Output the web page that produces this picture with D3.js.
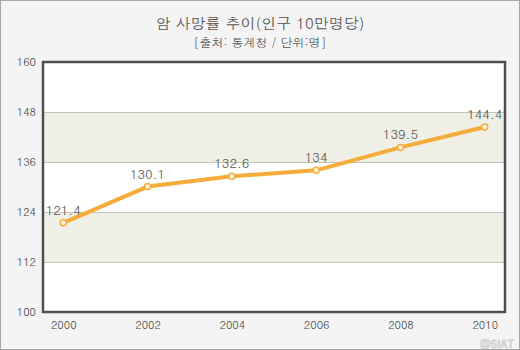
<!DOCTYPE html>
<html><head><meta charset="utf-8">
<script src="https://cdn.jsdelivr.net/npm/d3@7"></script>
<style>body{margin:0;background:#fff}</style>
</head><body>
<svg id="c" width="520" height="350"></svg>
<script>
const years = ["2000","2002","2004","2006","2008","2010"];
const values = [121.4,130.1,132.6,134,139.5,144.4];
const labels = ["121.4","130.1","132.6","134","139.5","144.4"];
const yTicks = [100,112,124,136,148,160];
const title = "암 사망률 추이(인구 10만명당)";
const subtitle = "[출처: 통계청 / 단위:명]";

const svg = d3.select("#c");
const font = "Dotum, 'Noto Sans CJK KR', sans-serif";
svg.append("rect").attr("x",0.5).attr("y",0.5).attr("width",519).attr("height",349)
  .attr("fill","#f4f4f4").attr("stroke","#a8a8a8");

const L=43,R=505,T=62,B=312;
const x = d3.scalePoint().domain(years).range([L,R]).padding(0.24);
const y = d3.scaleLinear().domain([100,160]).range([B,T]);

svg.append("rect").attr("x",L).attr("y",T).attr("width",R-L).attr("height",B-T).attr("fill","#fff");
[[136,148],[112,124]].forEach(b=>{
  svg.append("rect").attr("x",L).attr("y",y(b[1])).attr("width",R-L).attr("height",y(b[0])-y(b[1])).attr("fill","#f0efe6");
});
svg.append("g").selectAll("line").data(yTicks.slice(1,-1)).join("line")
  .attr("x1",L).attr("x2",R).attr("y1",d=>y(d)+0.5).attr("y2",d=>y(d)+0.5)
  .attr("stroke","#c4c4bc").attr("stroke-width",1);
svg.append("rect").attr("x",L).attr("y",T).attr("width",R-L).attr("height",B-T)
  .attr("fill","none").attr("stroke","#4f4f4f").attr("stroke-width",2.5);

const ya = svg.append("g").attr("transform",`translate(${L-7},0)`)
  .call(d3.axisLeft(y).tickValues(yTicks).tickSize(0).tickPadding(0));
ya.select(".domain").remove();
ya.selectAll("text").attr("font-family",font).attr("font-size",11).attr("fill","#444");

const xa = svg.append("g").attr("transform",`translate(0,${B+7})`)
  .call(d3.axisBottom(x).tickSize(0).tickPadding(0));
xa.select(".domain").remove();
xa.selectAll("text").attr("font-family",font).attr("font-size",11).attr("fill","#444").attr("dy","0.9em");

svg.append("text").attr("x",260).attr("y",29).attr("text-anchor","middle")
  .attr("font-family",font).attr("font-size",15).attr("font-weight","500").attr("fill","#555").text(title);
svg.append("text").attr("x",260).attr("y",47).attr("text-anchor","middle")
  .attr("font-family",font).attr("font-size",12).attr("fill","#555").text(subtitle);

const line = d3.line().x((d,i)=>x(years[i])).y(d=>y(d));
svg.append("path").datum(values).attr("d",line).attr("fill","none")
  .attr("stroke","#f6ac3a").attr("stroke-width",4).attr("stroke-linejoin","round");
svg.append("g").selectAll("circle").data(values).join("circle")
  .attr("cx",(d,i)=>x(years[i])).attr("cy",d=>y(d)).attr("r",3)
  .attr("fill","#fff6e0").attr("stroke","#f6ac3a").attr("stroke-width",1.5);
svg.append("g").selectAll("text").data(values).join("text")
  .attr("x",(d,i)=>x(years[i])).attr("y",d=>y(d)-8).attr("text-anchor","middle")
  .attr("font-family",font).attr("font-size",13).attr("fill","#555")
  .text((d,i)=>labels[i]);

svg.append("text").attr("x",514).attr("y",348).attr("text-anchor","end")
  .attr("font-family",font).attr("font-size",11).attr("font-weight","bold")
  .attr("fill","#e4e4e4").attr("stroke","#d2d2d2").attr("stroke-width",0.5).text("@SIAT");
</script>
</body></html>
